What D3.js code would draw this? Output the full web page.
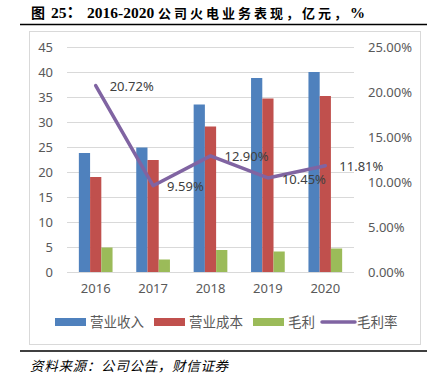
<!DOCTYPE html>
<html><head><meta charset="utf-8">
<script src="https://cdn.jsdelivr.net/npm/d3@7"></script>
<style>body{margin:0;background:#fff}svg{display:block}</style>
</head><body><svg id="c" width="427" height="382"></svg>
<script>
const years = ["2016","2017","2018","2019","2020"];
const revenue = [23.8, 24.9, 33.5, 38.8, 40.0];
const cost = [19.0, 22.4, 29.1, 34.7, 35.2];
const gross = [4.9, 2.5, 4.4, 4.1, 4.7];
const margin = [20.72, 9.59, 12.90, 10.45, 11.81];
const leftTicks = [0,5,10,15,20,25,30,35,40,45];
const rightTicks = [0,5,10,15,20,25];
const seriesNames = ["营业收入","营业成本","毛利"];
const colors = ["#4F81BD","#C0504D","#9BBB59"];
const lineColor = "#8064A2";

const svg = d3.select("#c");
const cjk = "'Noto Sans CJK SC', 'Noto Sans', sans-serif";
const L = 67, R = 354, T = 47, B = 272;

// title
const title = svg.append("text").attr("y",18).attr("font-weight","bold")
  .attr("font-family","'Liberation Serif', 'Noto Sans CJK SC', serif").attr("fill","#000");
title.append("tspan").attr("x",31).attr("font-size",14).text("图");
title.append("tspan").attr("x",51).attr("font-size",15.5).text("25：");
title.append("tspan").attr("x",87).attr("font-size",15.5).text("2016-2020");
title.append("tspan").attr("x",158).attr("font-size",13).attr("letter-spacing",3).text("公司火电业务表现，亿元，");
title.append("tspan").attr("font-size",15).text("%");

svg.append("line").attr("x1",20).attr("x2",427).attr("y1",24.5).attr("y2",24.5).attr("stroke","#000").attr("stroke-width",1.5);
svg.append("rect").attr("x",29.5).attr("y",31.5).attr("width",391).attr("height",313).attr("fill","none").attr("stroke","#d9d9d9");
svg.append("line").attr("x1",20).attr("x2",427).attr("y1",351).attr("y2",351).attr("stroke","#000").attr("stroke-width",1.5);
svg.append("text").attr("x",30).attr("y",371).attr("font-size",13.5).attr("font-style","italic").attr("letter-spacing",0.7)
  .attr("font-family",cjk).attr("fill","#000").text("资料来源：公司公告，财信证券");

const x0 = d3.scaleBand().domain(years).range([L,R]).paddingInner(0.413).paddingOuter(0.2065);
const x1 = d3.scaleBand().domain(d3.range(3)).range([0,x0.bandwidth()]);
const yL = d3.scaleLinear().domain([0,45]).range([B,T]);
const yR = d3.scaleLinear().domain([0,25]).range([B,T]);

// grid
const gridAxis = d3.axisLeft(yL).tickValues(leftTicks).tickSize(-(R-L)).tickFormat("");
const g = svg.append("g").attr("transform",`translate(${L},0)`).call(gridAxis);
g.select(".domain").remove();
g.selectAll("line").attr("stroke","#d9d9d9").attr("stroke-width",1);

// left labels
const la = svg.append("g").attr("transform",`translate(${L},0)`)
  .call(d3.axisLeft(yL).tickValues(leftTicks).tickSize(0).tickPadding(14));
la.select(".domain").remove();
la.selectAll("text").attr("font-size",13).attr("font-family","'Noto Sans', sans-serif").attr("fill","#595959");

// right labels
const ra = svg.append("g").attr("transform",`translate(${R},0)`)
  .call(d3.axisRight(yR).tickValues(rightTicks).tickSize(0).tickPadding(14).tickFormat(d=>d.toFixed(2)+"%"));
ra.select(".domain").remove();
ra.selectAll("text").attr("font-size",13).attr("font-family","'Noto Sans', sans-serif").attr("fill","#595959");

// x labels
const xa = svg.append("g").attr("transform",`translate(0,${B})`)
  .call(d3.axisBottom(x0).tickSize(0).tickPadding(12));
xa.select(".domain").remove();
xa.selectAll("text").attr("font-size",13).attr("font-family","'Noto Sans', sans-serif").attr("fill","#595959");

// bars
const data = [revenue,cost,gross];
data.forEach((arr,si)=>{
  svg.append("g").selectAll("rect").data(arr).join("rect")
    .attr("x",(d,i)=>x0(years[i])+x1(si))
    .attr("y",d=>yL(d))
    .attr("width",x1.bandwidth())
    .attr("height",d=>B-yL(d))
    .attr("fill",colors[si]);
});

// line
const cx = i => x0(years[i]) + x0.bandwidth()/2;
const line = d3.line().x((d,i)=>cx(i)).y(d=>yR(d));
svg.append("path").datum(margin).attr("d",line).attr("fill","none")
  .attr("stroke",lineColor).attr("stroke-width",3.5).attr("stroke-linejoin","round").attr("stroke-linecap","round");

svg.append("g").selectAll("text").data(margin).join("text")
  .attr("x",(d,i)=>cx(i)+14).attr("y",d=>yR(d)+1).attr("dy","0.35em")
  .attr("font-size",13).attr("font-family","'Noto Sans', sans-serif").attr("fill","#404040")
  .text(d=>d.toFixed(2)+"%");

// legend
const legY = 322;
const legX = [55,154,253];
seriesNames.forEach((n,i)=>{
  svg.append("rect").attr("x",legX[i]).attr("y",legY-4).attr("width",31).attr("height",8).attr("fill",colors[i]);
  svg.append("text").attr("x",legX[i]+35).attr("y",legY).attr("dy","0.35em").attr("font-size",13.5)
    .attr("font-family",cjk).attr("fill","#595959").text(n);
});
svg.append("line").attr("x1",322).attr("x2",355).attr("y1",legY).attr("y2",legY).attr("stroke",lineColor).attr("stroke-width",3.5).attr("stroke-linecap","round");
svg.append("text").attr("x",357).attr("y",legY).attr("dy","0.35em").attr("font-size",13.5)
  .attr("font-family",cjk).attr("fill","#595959").text("毛利率");
</script></body></html>
